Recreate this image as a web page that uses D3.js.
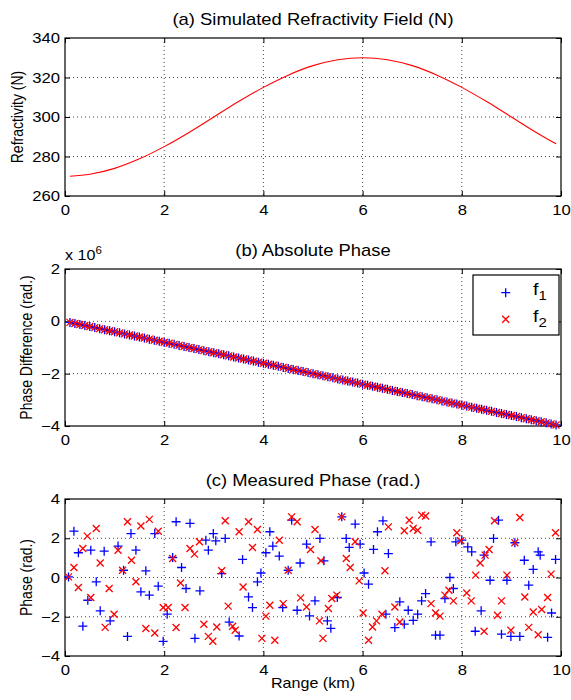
<!DOCTYPE html>
<html><head><meta charset="utf-8">
<script src="https://d3js.org/d3.v7.min.js"></script>
<style>
body{margin:0;background:#fff;}
svg{display:block;font-family:"Liberation Sans",Arial,Helvetica,sans-serif;}
</style></head><body>
<svg id="chart" width="571" height="700"></svg>
<script>
// ---------------- data ----------------
const xTicks = [0, 2, 4, 6, 8, 10];
const yTicksA = [260, 280, 300, 320, 340];
const yTicksB = [-4, -2, 0, 2];
const yTicksC = [-4, -2, 0, 2, 4];
const titles = ["(a) Simulated Refractivity Field (N)", "(b) Absolute Phase", "(c) Measured Phase (rad.)"];
const yLabels = ["Refractivity (N)", "Phase Difference (rad.)", "Phase (rad.)"];
const xLabel = "Range (km)";
const legendSubs = ["1", "2"];

// (a) refractivity profile
const refRange = [0.1,0.5,1,1.5,2,2.5,3,3.5,4,4.5,5,5.5,6,6.5,7,7.5,8,8.5,9,9.5,9.9];
const refractivity = [270.0,271.0,274.0,278.8,285.0,292.2,300.0,307.8,315.0,321.2,326.0,329.0,330.0,329.0,326.0,321.2,315.0,307.8,300.0,292.2,286.4];

// (b) absolute phase (x 10^6 rad)
const absRange = [0.1,0.2,0.3,0.4,0.5,0.6,0.7,0.8,0.9,1.0,1.1,1.2,1.3,1.4,1.5,1.6,1.7,1.8,1.9,2.0,2.1,2.2,2.3,2.4,2.5,2.6,2.7,2.8,2.9,3.0,3.1,3.2,3.3,3.4,3.5,3.6,3.7,3.8,3.9,4.0,4.1,4.2,4.3,4.4,4.5,4.6,4.7,4.8,4.9,5.0,5.1,5.2,5.3,5.4,5.5,5.6,5.7,5.8,5.9,6.0,6.1,6.2,6.3,6.4,6.5,6.6,6.7,6.8,6.9,7.0,7.1,7.2,7.3,7.4,7.5,7.6,7.7,7.8,7.9,8.0,8.1,8.2,8.3,8.4,8.5,8.6,8.7,8.8,8.9,9.0,9.1,9.2,9.3,9.4,9.5,9.6,9.7,9.8,9.9];
const absPhaseF1 = [-0.04,-0.08,-0.12,-0.16,-0.20,-0.24,-0.28,-0.32,-0.36,-0.40,-0.44,-0.48,-0.52,-0.56,-0.60,-0.64,-0.68,-0.72,-0.76,-0.80,-0.84,-0.88,-0.92,-0.96,-1.00,-1.04,-1.08,-1.12,-1.16,-1.20,-1.24,-1.28,-1.32,-1.36,-1.40,-1.44,-1.48,-1.52,-1.56,-1.60,-1.64,-1.68,-1.72,-1.76,-1.80,-1.84,-1.88,-1.92,-1.96,-2.00,-2.04,-2.08,-2.12,-2.16,-2.20,-2.24,-2.28,-2.32,-2.36,-2.40,-2.44,-2.48,-2.52,-2.56,-2.60,-2.64,-2.68,-2.72,-2.76,-2.80,-2.84,-2.88,-2.92,-2.96,-3.00,-3.04,-3.08,-3.12,-3.16,-3.20,-3.24,-3.28,-3.32,-3.36,-3.40,-3.44,-3.48,-3.52,-3.56,-3.60,-3.64,-3.68,-3.72,-3.76,-3.80,-3.84,-3.88,-3.92,-3.96];
const absPhaseF2 = [-0.04,-0.08,-0.12,-0.16,-0.20,-0.24,-0.28,-0.32,-0.36,-0.40,-0.44,-0.48,-0.52,-0.56,-0.60,-0.64,-0.68,-0.72,-0.76,-0.80,-0.84,-0.88,-0.92,-0.96,-1.00,-1.04,-1.08,-1.12,-1.16,-1.20,-1.24,-1.28,-1.32,-1.36,-1.40,-1.44,-1.48,-1.52,-1.56,-1.60,-1.64,-1.68,-1.72,-1.76,-1.80,-1.84,-1.88,-1.92,-1.96,-2.00,-2.04,-2.08,-2.12,-2.16,-2.20,-2.24,-2.28,-2.32,-2.36,-2.40,-2.44,-2.48,-2.52,-2.56,-2.60,-2.64,-2.68,-2.72,-2.76,-2.80,-2.84,-2.88,-2.92,-2.96,-3.00,-3.04,-3.08,-3.12,-3.16,-3.20,-3.24,-3.28,-3.32,-3.36,-3.40,-3.44,-3.48,-3.52,-3.56,-3.60,-3.64,-3.68,-3.72,-3.76,-3.80,-3.84,-3.88,-3.92,-3.96];

// (c) measured (wrapped) phase
const measRangeF1 = [0.07,0.18,0.27,0.36,0.46,0.52,0.63,0.71,0.79,0.91,1.07,1.18,1.26,1.33,1.43,1.53,1.63,1.70,1.81,1.88,1.98,2.06,2.17,2.24,2.35,2.44,2.52,2.62,2.72,2.84,2.89,2.99,3.04,3.16,3.23,3.31,3.51,3.58,3.70,3.78,3.88,3.95,4.05,4.13,4.19,4.32,4.39,4.50,4.57,4.68,4.74,4.87,4.93,5.04,5.14,5.22,5.29,5.36,5.49,5.58,5.67,5.73,5.85,5.95,6.03,6.12,6.22,6.30,6.41,6.52,6.47,6.65,6.75,6.84,6.92,7.02,7.11,7.19,7.27,7.38,7.47,7.56,7.66,7.76,7.83,7.88,8.00,8.12,8.20,8.27,8.39,8.45,8.57,8.64,8.74,8.80,8.91,8.99,9.07,9.17,9.26,9.35,9.44,9.54,9.58,9.73,9.81,9.89];
const measPhaseF1 = [0.03,2.36,1.26,-2.48,-1.16,1.39,-0.22,-1.70,1.34,-2.21,1.60,0.37,-3.0,2.24,1.39,-0.73,0.34,-0.90,2.24,-0.44,-3.25,-1.87,1.02,2.84,0.51,-0.56,2.76,-3.10,-0.68,1.90,1.39,2.24,1.87,0.20,1.99,-2.27,-2.98,0.92,-0.99,-1.53,-0.22,0.23,1.26,2.33,1.60,1.09,-1.53,0.37,2.92,-1.67,0.74,1.70,-1.96,-1.19,1.99,0.85,-2.21,-2.59,-1.02,3.09,1.99,1.53,2.72,1.70,0.23,-0.34,1.43,2.33,2.89,1.22,-1.87,-2.55,-1.24,-2.38,-1.67,-2.18,-1.87,-1.19,-0.82,1.82,-2.94,-2.94,-1.07,0,-0.56,1.82,1.90,1.56,1.31,-2.74,-1.70,1.14,-0.14,1.99,2.92,-2.89,-0.14,-3.0,1.77,-3.0,0.88,-0.39,0.41,1.31,1.14,-3.05,-1.81,0.92];
const measRangeF2 = [0.07,0.18,0.27,0.36,0.45,0.52,0.63,0.71,0.81,0.89,0.99,1.07,1.16,1.26,1.34,1.43,1.53,1.63,1.70,1.81,1.88,1.98,2.08,2.17,2.24,2.33,2.42,2.52,2.61,2.71,2.80,2.89,2.98,3.06,3.16,3.23,3.29,3.38,3.43,3.51,3.59,3.70,3.78,3.88,3.97,4.05,4.13,4.23,4.32,4.40,4.50,4.57,4.68,4.75,4.87,4.95,5.04,5.13,5.16,5.20,5.31,5.38,5.48,5.58,5.67,5.75,5.85,5.93,6.01,6.12,6.20,6.28,6.39,6.45,6.52,6.65,6.75,6.84,6.94,7.02,7.11,7.19,7.27,7.38,7.47,7.56,7.66,7.74,7.83,7.90,7.98,8.10,8.19,8.28,8.37,8.45,8.47,8.55,8.66,8.72,8.80,8.91,8.99,9.07,9.17,9.27,9.35,9.44,9.54,9.61,9.73,9.80,9.89];
const measPhaseF2 = [0.03,0.51,-0.51,1.48,2.11,-1.02,2.50,0.74,-2.54,-0.56,-1.87,1.39,0.37,2.84,0.88,-0.22,2.62,-2.60,2.96,-2.83,2.36,-1.53,-1.53,0.97,-2.55,-0.28,-1.53,1.48,1.19,1.82,-2.38,-3.0,-3.25,-2.52,0.34,2.89,-1.46,-2.48,-2.69,2.33,-0.48,2.84,1.53,2.45,-3.10,-1.97,-1.41,-3.2,1.90,-1.33,0.37,3.09,2.84,-1.04,-1.50,1.43,2.45,-2.21,0.85,-3.10,-1.58,-1.07,-0.90,3.09,0.97,0.51,1.82,-0.17,-1.81,-3.2,-2.52,-2.21,-1.87,0.34,2.58,-1.50,-2.27,2.38,2.92,2.50,2.41,3.18,3.13,-1.33,-1.81,-1.97,-0.90,-0.65,-1.19,2.28,1.87,-0.79,-1.19,0.12,0.74,-2.74,1.14,1.43,2.89,-1.92,-1.19,0.12,-2.69,1.77,3.06,-0.99,-2.54,-1.76,-2.92,-1.63,-1.02,0.17,2.28];

// ---------------- drawing ----------------
const SX = 1.15;               // horizontal stretch of the original text
const BLUE = "#0000ff", RED = "#ff0000";
const svg = d3.select("#chart");
const left = 65, right = 561;
const panels = [{top: 38, bottom: 196}, {top: 269, bottom: 426}, {top: 499, bottom: 656}];
const x = d3.scaleLinear().domain([0, 10]).range([left, right]);

function stretchAt(sel) {
  sel.each(function () {
    const t = d3.select(this);
    const xx = +t.attr("x") || 0;
    t.attr("transform", `translate(${xx},0) scale(${SX},1) translate(${-xx},0)`);
  });
}

function makePanel(i, yDomain, yTicks) {
  const p = panels[i];
  const y = d3.scaleLinear().domain(yDomain).range([p.bottom, p.top]);
  const g = svg.append("g");
  // grid
  const grid = g.append("g").attr("stroke", "#333").attr("stroke-width", 0.9).attr("stroke-dasharray", "1,3");
  grid.selectAll("line.v").data(xTicks.filter(d => d > 0 && d < 10)).join("line")
    .attr("x1", d => x(d)).attr("x2", d => x(d)).attr("y1", p.top).attr("y2", p.bottom);
  grid.selectAll("line.h").data(yTicks.filter(d => d > yDomain[0] && d < yDomain[1])).join("line")
    .attr("x1", left).attr("x2", right).attr("y1", d => y(d)).attr("y2", d => y(d));
  const style = a => { a.attr("font-size", 14.5).attr("font-family", null); a.select(".domain").remove(); a.selectAll("line").attr("stroke", "#000"); };
  const ab = g.append("g").attr("transform", `translate(0,${p.bottom})`)
    .call(d3.axisBottom(x).tickValues(xTicks).tickFormat(d3.format("d")).tickSizeInner(-5).tickSizeOuter(0).tickPadding(9)).call(style);
  stretchAt(ab.selectAll("text"));
  g.append("g").attr("transform", `translate(0,${p.top})`)
    .call(d3.axisTop(x).tickValues(xTicks).tickFormat("").tickSizeInner(-5).tickSizeOuter(0)).call(style);
  const al = g.append("g").attr("transform", `translate(${left},0)`)
    .call(d3.axisLeft(y).tickValues(yTicks).tickFormat(d3.format("d")).tickSizeInner(-5).tickSizeOuter(0).tickPadding(5)).call(style);
  stretchAt(al.selectAll("text"));
  g.append("g").attr("transform", `translate(${right},0)`)
    .call(d3.axisRight(y).tickValues(yTicks).tickFormat("").tickSizeInner(-5).tickSizeOuter(0)).call(style);
  g.append("rect").attr("x", left).attr("y", p.top).attr("width", right - left).attr("height", p.bottom - p.top)
    .attr("fill", "none").attr("stroke", "#000").attr("stroke-width", 1.2);
  // title
  svg.append("text").attr("x", (left + right) / 2).attr("y", p.top - 13).attr("text-anchor", "middle")
    .attr("font-size", 16).text(titles[i]).call(stretchAt);
  return {y, g, p};
}

function ylab(txt, cx, cy) {
  svg.append("text").attr("transform", `translate(${cx},${cy}) scale(${SX},1) rotate(-90)`)
    .attr("text-anchor", "middle").attr("font-size", 14).text(txt);
}

const plusPath = "M-4.5,0H4.5M0,-4.5V4.5";
const crossPath = "M-3.5,-3.5L3.5,3.5M-3.5,3.5L3.5,-3.5";
function markers(g, xs, ys, y, path, color) {
  g.append("g").selectAll("path").data(xs.map((d, k) => [d, ys[k]])).join("path")
    .attr("transform", d => `translate(${x(d[0])},${y(d[1])})`)
    .attr("d", path).attr("fill", "none").attr("stroke", color).attr("stroke-width", 1.3);
}

// Panel (a)
const A = makePanel(0, [260, 340], yTicksA);
A.g.append("path").datum(refRange.map((d, k) => [d, refractivity[k]]))
  .attr("d", d3.line().x(d => x(d[0])).y(d => A.y(d[1])).curve(d3.curveMonotoneX))
  .attr("fill", "none").attr("stroke", RED).attr("stroke-width", 1.1);
ylab(yLabels[0], 22.5, (A.p.top + A.p.bottom) / 2);

// Panel (b)
const B = makePanel(1, [-4, 2], yTicksB);
markers(B.g, absRange, absPhaseF1, B.y, plusPath, BLUE);
markers(B.g, absRange, absPhaseF2, B.y, crossPath, RED);
ylab(yLabels[1], 31.5, (B.p.top + B.p.bottom) / 2);
// exponent label
const ex = svg.append("text").attr("x", 65).attr("y", 260).attr("font-size", 14);
ex.append("tspan").text("x 10");
ex.append("tspan").attr("dy", -6).attr("font-size", 10).text("6");
stretchAt(ex);
// legend
const L = svg.append("g");
L.append("rect").attr("x", 473).attr("y", 275).attr("width", 86).attr("height", 60)
  .attr("fill", "#fff").attr("stroke", "#000").attr("stroke-width", 1.2);
L.append("path").attr("transform", "translate(505.7,292.7)").attr("d", plusPath).attr("fill", "none").attr("stroke", BLUE).attr("stroke-width", 1.3);
L.append("path").attr("transform", "translate(505.7,319.3)").attr("d", crossPath).attr("fill", "none").attr("stroke", RED).attr("stroke-width", 1.3);
[[295, legendSubs[0]], [322, legendSubs[1]]].forEach(([yy, s]) => {
  const t = L.append("text").attr("x", 533).attr("y", yy).attr("font-size", 17);
  t.append("tspan").text("f");
  t.append("tspan").attr("dy", 5).attr("font-size", 13).text(s);
  stretchAt(t);
});

// Panel (c)
const C = makePanel(2, [-4, 4], yTicksC);
markers(C.g, measRangeF1, measPhaseF1, C.y, plusPath, BLUE);
markers(C.g, measRangeF2, measPhaseF2, C.y, crossPath, RED);
ylab(yLabels[2], 31.5, (C.p.top + C.p.bottom) / 2);
svg.append("text").attr("x", (left + right) / 2).attr("y", 688).attr("text-anchor", "middle")
  .attr("font-size", 14).text(xLabel).call(stretchAt);
</script>
</body></html>
